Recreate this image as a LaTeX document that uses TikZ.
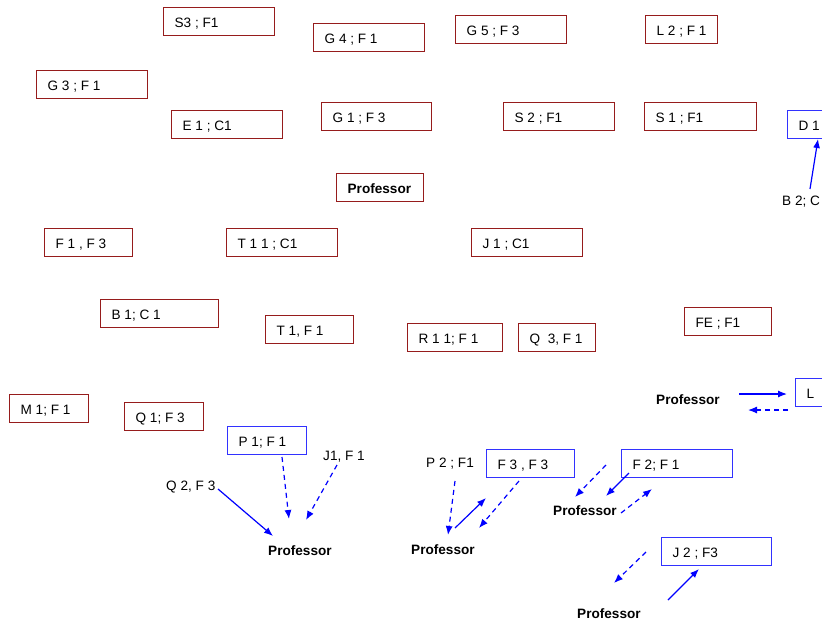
\documentclass[tikz,border=0pt]{standalone}
\usepackage{fontspec}
\setmainfont{Liberation Sans}
\usetikzlibrary{arrows.meta}
\definecolor{boxred}{RGB}{150,28,28}
\definecolor{boxblue}{RGB}{50,50,255}
\definecolor{arrblue}{RGB}{0,0,255}

\begin{document}
\begin{tikzpicture}[x=1pt,y=-1pt,
  every node/.style={font=\fontsize{13.6}{16}\selectfont, inner sep=0pt},
  tbox/.style={draw, line width=1.3pt, anchor=north west, inner xsep=11pt,
               inner ysep=0pt, align=flush left, minimum height=28pt,
               text height=13pt, text depth=1.5pt},
  redbox/.style={tbox, draw=boxred},
  bluebox/.style={tbox, draw=boxblue},
  lbl/.style={anchor=west},
  prof/.style={anchor=west, font=\fontsize{13.6}{16}\selectfont\bfseries},
  link/.style={draw=arrblue, line width=1.2pt, -{Latex[length=9pt,width=7pt]}},
  dlink/.style={link, dash pattern=on 5pt off 4pt},
]
\clip (0,0) rectangle (822,627);

% boxes with dark red frames
\node[redbox, text width=89pt] (s3)  at (163,7)   {\mbox{S3 ; F1}};
\node[redbox, text width=89pt] (g3)  at (36,70)   {\mbox{G 3 ; F 1}};
\node[redbox, text width=89pt] (e1)  at (171,110) {\mbox{E 1 ; C1}};
\node[redbox, text width=89pt] (g4)  at (313,23)  {\mbox{G 4 ; F 1}};
\node[redbox, text width=89pt] (g5)  at (455,15)  {\mbox{G 5 ; F 3}};
\node[redbox, text width=88pt] (g1)  at (321,102) {\mbox{G 1 ; F 3}};
\node[redbox, text width=89pt] (s2)  at (503,102) {\mbox{S 2 ; F1}};
\node[redbox, text width=50pt] (l2)  at (645,15)  {\mbox{L 2 ; F 1}};
\node[redbox, text width=90pt] (s1)  at (644,102) {\mbox{S 1 ; F1}};
\node[redbox, text width=65pt, font=\fontsize{13.6}{16}\selectfont\bfseries] (prof) at (336,173) {\mbox{Professor}};
\node[redbox, text width=66pt] (f1f3) at (44,228)  {\mbox{F 1 , F 3}};
\node[redbox, text width=89pt] (t11) at (226,228) {\mbox{T 1 1 ; C1}};
\node[redbox, text width=89pt] (j1)  at (471,228) {\mbox{J 1 ; C1}};
\node[redbox, text width=96pt] (b1)  at (100,299) {\mbox{B 1; C 1}};
\node[redbox, text width=66pt] (t1)  at (265,315) {\mbox{T 1, F 1}};
\node[redbox, text width=73pt] (r11) at (407,323) {\mbox{R 1 1; F 1}};
\node[redbox, text width=55pt] (q3)  at (518,323) {\mbox{Q\ \ 3, F 1}};
\node[redbox, text width=65pt] (fe)  at (684,307) {\mbox{FE ; F1}};
\node[redbox, text width=57pt] (m1)  at (9,394)   {\mbox{M 1; F 1}};
\node[redbox, text width=57pt] (q1)  at (124,402) {\mbox{Q 1; F 3}};

% boxes with blue frames
\node[bluebox, text width=89pt] (d1)   at (787,110) {\mbox{D 1}};
\node[bluebox, text width=89pt] (lbox) at (795,378) {\mbox{L}};
\node[bluebox, text width=57pt] (p1)   at (227,426) {\mbox{P 1; F 1}};
\node[bluebox, text width=66pt] (f3f3) at (486,449) {\mbox{F 3 , F 3}};
\node[bluebox, text width=89pt] (f2)   at (621,449) {\mbox{F 2; F 1}};
\node[bluebox, text width=88pt] (j2)   at (661,537) {\mbox{J 2 ; F3}};

% free labels
\node[lbl] (b2)  at (782,202) {B 2; C};
\node[lbl] (q2)  at (166,487) {Q 2, F 3};
\node[lbl] (j1l) at (323,457) {J1, F 1};
\node[lbl] (p2)  at (426,464) {P 2 ; F1};

% unframed Professor labels
\node[prof] (pa) at (268,551) {Professor};
\node[prof] (pb) at (411,550) {Professor};
\node[prof] (pc) at (553,511) {Professor};
\node[prof] (pd) at (577,614) {Professor};
\node[prof] (pe) at (656,400) {Professor};

% arrow end points
\coordinate (c1a) at (810,189);  \coordinate (c1b) at (818,139);
\coordinate (c2a) at (218,489);  \coordinate (c2b) at (273,536);
\coordinate (c3a) at (282,457);  \coordinate (c3b) at (289,519);
\coordinate (c4a) at (337,465);  \coordinate (c4b) at (306,520);
\coordinate (c5a) at (739,394);  \coordinate (c5b) at (787,394);
\coordinate (c6a) at (788,410);  \coordinate (c6b) at (748,410);
\coordinate (c7a) at (455,481);  \coordinate (c7b) at (448,535);
\coordinate (c8a) at (455,528);  \coordinate (c8b) at (486,498);
\coordinate (c9a) at (519,481);  \coordinate (c9b) at (479,528);
\coordinate (c10a) at (606,465); \coordinate (c10b) at (575,497);
\coordinate (c11a) at (629,473); \coordinate (c11b) at (606,496);
\coordinate (c12a) at (621,513); \coordinate (c12b) at (652,489);
\coordinate (c13a) at (646,552); \coordinate (c13b) at (614,583);
\coordinate (c14a) at (668,600); \coordinate (c14b) at (699,569);

% connectors
\draw[link]  (c1a) -- (c1b);
\draw[link]  (c2a) -- (c2b);
\draw[dlink] (c3a) -- (c3b);
\draw[dlink] (c4a) -- (c4b);
\draw[link]  (c5a) -- (c5b);
\draw[dlink] (c6a) -- (c6b);
\draw[dlink] (c7a) -- (c7b);
\draw[link]  (c8a) -- (c8b);
\draw[dlink] (c9a) -- (c9b);
\draw[dlink] (c10a) -- (c10b);
\draw[link]  (c11a) -- (c11b);
\draw[dlink] (c12a) -- (c12b);
\draw[dlink] (c13a) -- (c13b);
\draw[link]  (c14a) -- (c14b);
\end{tikzpicture}
\end{document}
